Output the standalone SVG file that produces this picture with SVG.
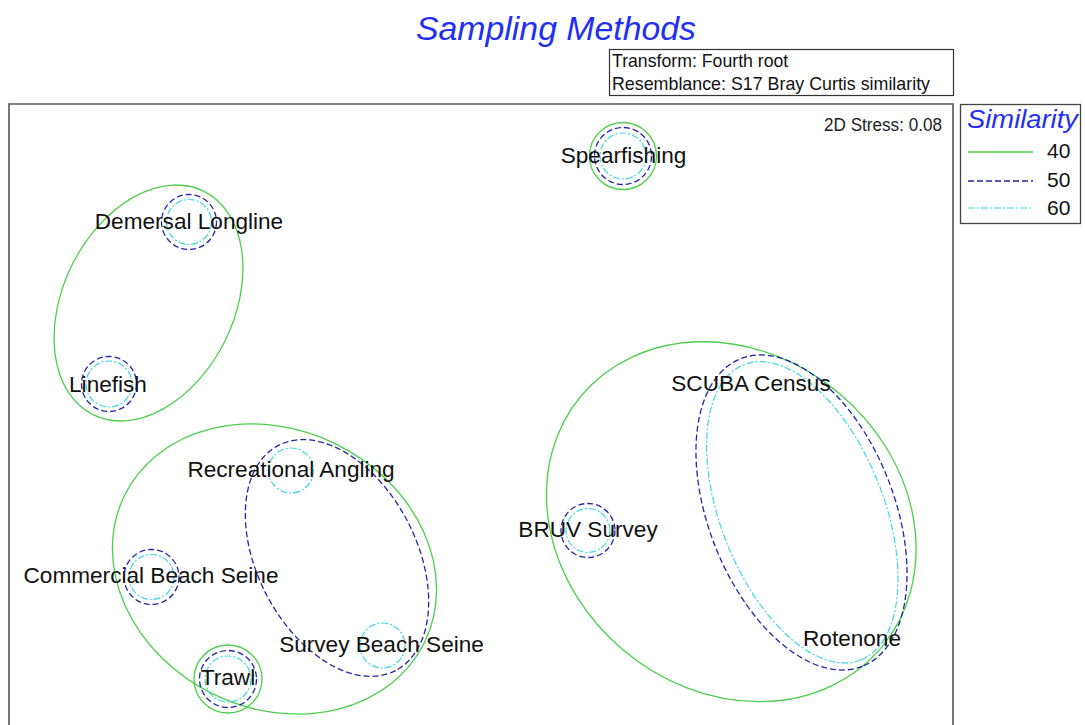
<svg xmlns="http://www.w3.org/2000/svg" width="1085" height="725" viewBox="0 0 1085 725">
<style>
text{font-family:"Liberation Sans",Arial,sans-serif}
.lbl{font-size:22.6px;fill:#111;text-anchor:middle}
.title{font-size:33px;font-style:italic;fill:#1f2ff5}
.info{font-size:17.7px;fill:#111}
.g{fill:none;stroke:#4ccf4c;stroke-width:1.3}
.b{fill:none;stroke:#2424a8;stroke-width:1.3;stroke-dasharray:6 3}
.c{fill:none;stroke:#3fd8e0;stroke-width:1.2;stroke-dasharray:7 2 2 2}
.frame{fill:none;stroke:#555;stroke-width:1.6}
</style>
<rect width="1085" height="725" fill="#fff"/>
<text class="title" x="416" y="40" textLength="280" lengthAdjust="spacingAndGlyphs">Sampling Methods</text>
<g id="info">
<rect x="609.5" y="49.5" width="344" height="46" fill="none" stroke="#333" stroke-width="1.2"/>
<text class="info" x="612" y="67">Transform: Fourth root</text>
<text class="info" x="612" y="90" textLength="318" lengthAdjust="spacingAndGlyphs">Resemblance: S17 Bray Curtis similarity</text>
</g>
<path class="frame" d="M9,726 V104 H953 V726"/>
<text x="942" y="131" font-size="17.5" fill="#222" text-anchor="end" textLength="118" lengthAdjust="spacingAndGlyphs">2D Stress: 0.08</text>
<g id="legend">
<rect x="960.5" y="104.5" width="120" height="119" fill="none" stroke="#444" stroke-width="1.3"/>
<text x="967" y="128" font-size="25" font-style="italic" fill="#1f2ff5" textLength="111" lengthAdjust="spacingAndGlyphs">Similarity</text>
<line class="g" x1="968" y1="152" x2="1033" y2="152"/>
<text x="1047" y="158" font-size="21" fill="#111">40</text>
<line class="b" x1="968" y1="181" x2="1033" y2="181"/>
<text x="1047" y="187" font-size="21" fill="#111">50</text>
<line class="c" x1="968" y1="208" x2="1033" y2="208"/>
<text x="1047" y="215" font-size="21" fill="#111">60</text>
</g>
<g id="clusters">
<ellipse class="g" cx="148.5" cy="303" rx="124.7" ry="85.4" transform="rotate(-63.6 148.5 303)"/>
<ellipse class="g" cx="274.5" cy="569" rx="167" ry="139.3" transform="rotate(26 274.5 569)"/>
<ellipse class="b" cx="337" cy="558" rx="126.9" ry="79.5" transform="rotate(62.5 337 558)"/>
<ellipse class="g" cx="731.3" cy="521.7" rx="195.9" ry="167.8" transform="rotate(40 731.3 521.7)"/>
<ellipse class="b" cx="801.5" cy="512.5" rx="165.4" ry="92.7" transform="rotate(68.4 801.5 512.5)"/>
<ellipse class="c" cx="802.3" cy="512.3" rx="158.8" ry="81.5" transform="rotate(68.4 802.3 512.3)"/>
</g>
<g id="spearfishing">
<circle class="g" cx="623" cy="156" r="33.5"/>
<circle class="b" cx="623" cy="156" r="28.5"/>
<circle class="c" cx="623" cy="156" r="23"/>
<text class="lbl" x="623.5" y="163">Spearfishing</text>
</g>
<g id="demersal-longline">
<circle class="b" cx="189" cy="222" r="27.5"/>
<circle class="c" cx="189" cy="222" r="22.5"/>
<text class="lbl" x="189" y="229">Demersal Longline</text>
</g>
<g id="linefish">
<circle class="b" cx="109" cy="384" r="27.5"/>
<circle class="c" cx="109" cy="384" r="23"/>
<text class="lbl" x="108" y="391.5">Linefish</text>
</g>
<g id="recreational-angling">
<circle class="c" cx="291" cy="470.5" r="22.5"/>
<text class="lbl" x="291" y="477">Recreational Angling</text>
</g>
<g id="commercial-beach-seine">
<circle class="b" cx="151.5" cy="577" r="27.5"/>
<circle class="c" cx="151.5" cy="577" r="22.5"/>
<text class="lbl" x="151" y="583">Commercial Beach Seine</text>
</g>
<g id="survey-beach-seine">
<circle class="c" cx="382.5" cy="645.5" r="22.5"/>
<text class="lbl" x="381.5" y="652">Survey Beach Seine</text>
</g>
<g id="trawl">
<circle class="g" cx="228" cy="679" r="34"/>
<circle class="b" cx="228" cy="679" r="28.5"/>
<circle class="c" cx="228" cy="679" r="23"/>
<text class="lbl" x="228" y="685">Trawl</text>
</g>
<g id="bruv-survey">
<circle class="b" cx="588" cy="530.5" r="27"/>
<circle class="c" cx="588" cy="530.5" r="22"/>
<text class="lbl" x="588" y="537">BRUV Survey</text>
</g>
<g id="scuba-census">
<text class="lbl" x="751" y="391">SCUBA Census</text>
</g>
<g id="rotenone">
<text class="lbl" x="852" y="646">Rotenone</text>
</g>
</svg>
